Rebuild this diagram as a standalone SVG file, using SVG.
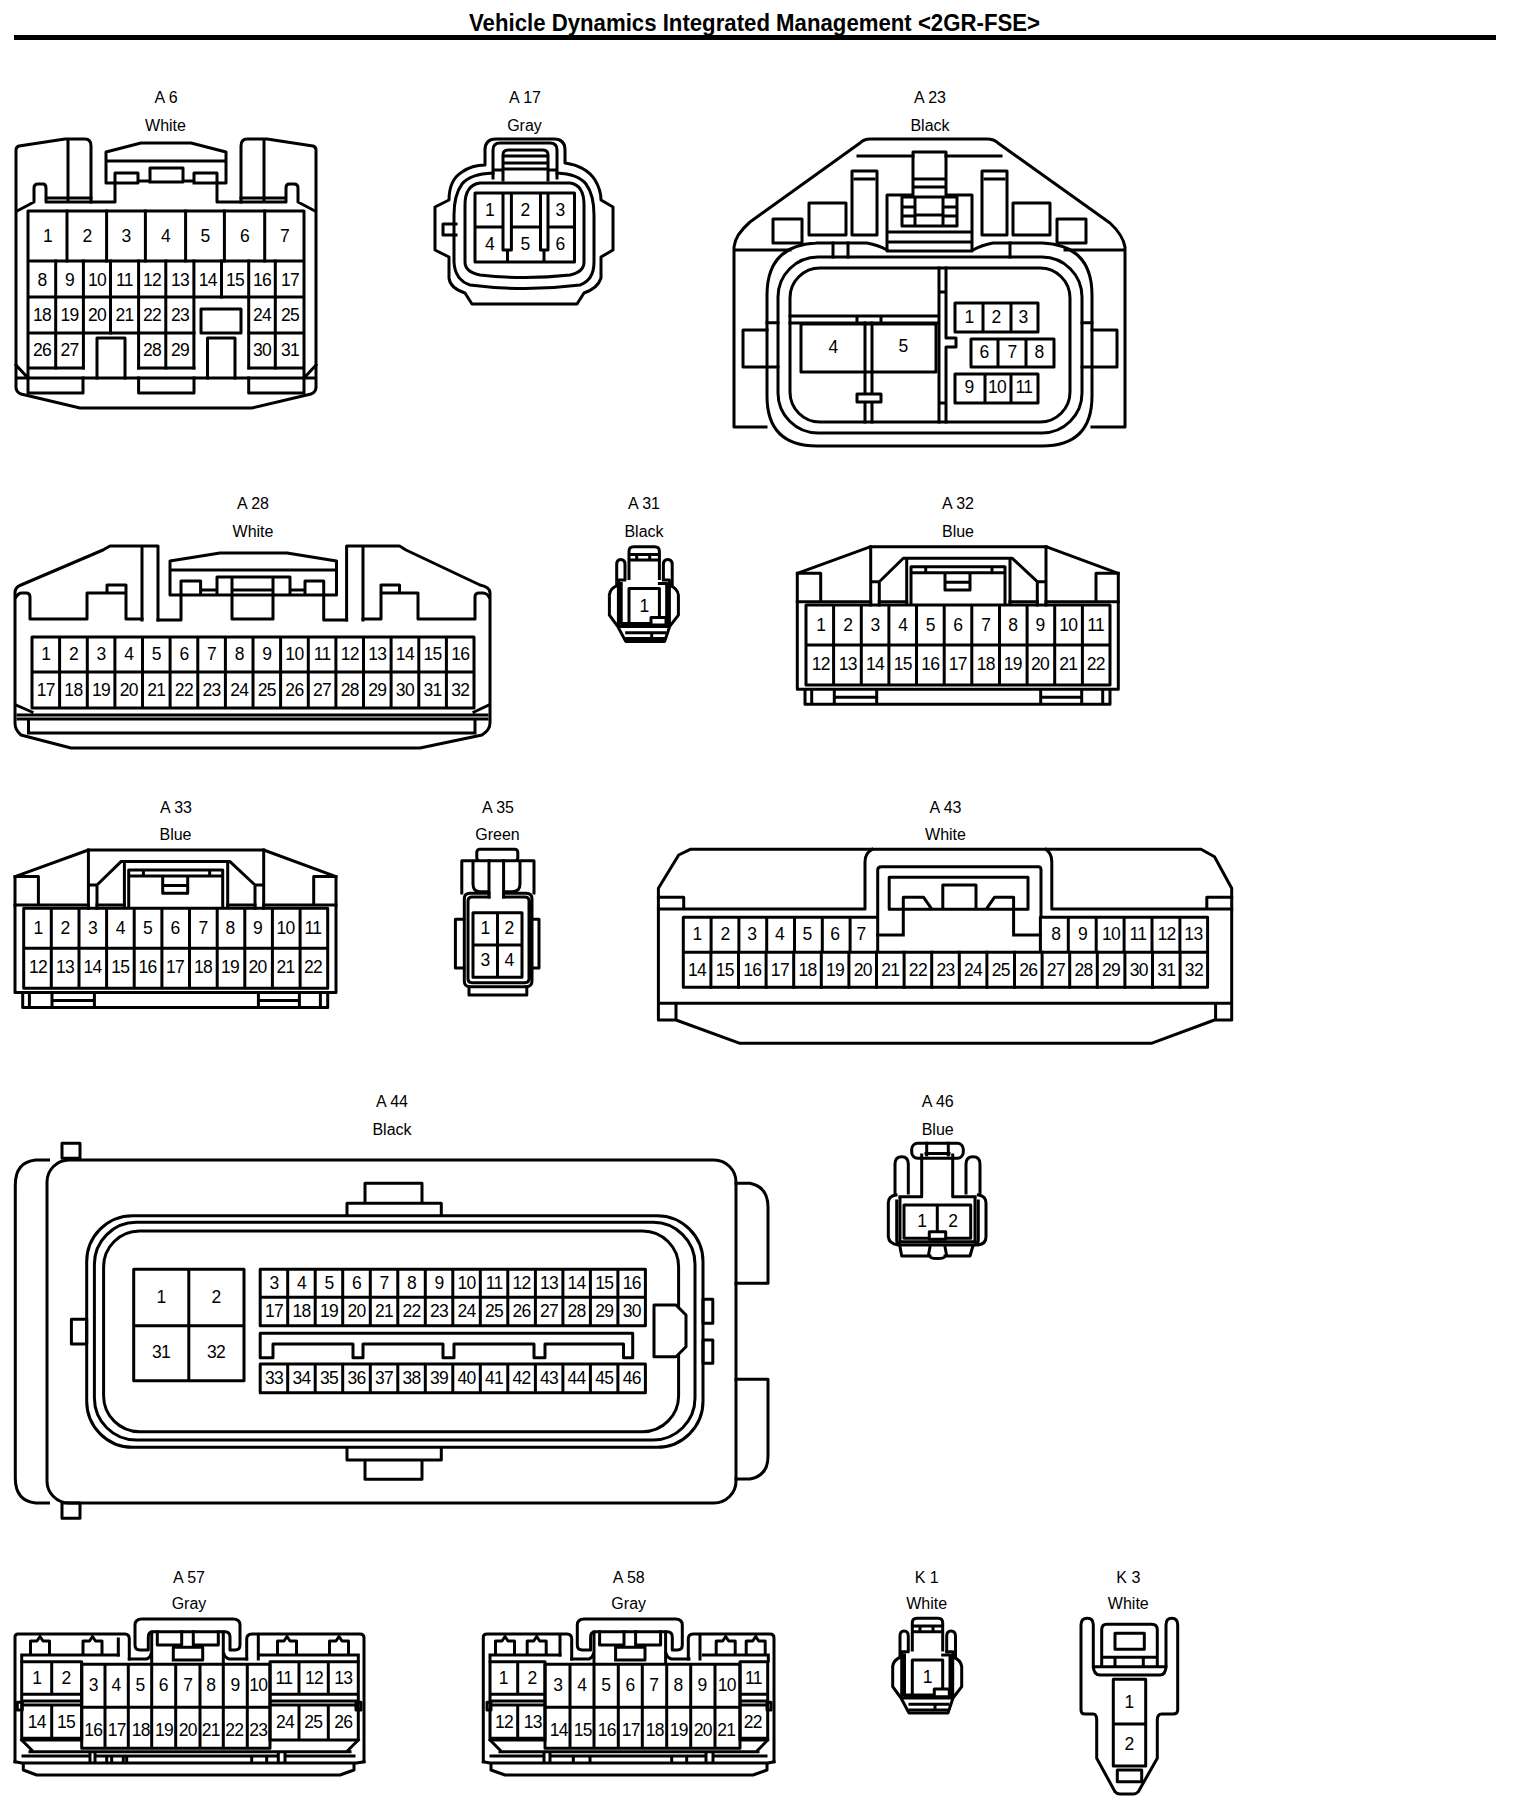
<svg xmlns="http://www.w3.org/2000/svg" xmlns:xlink="http://www.w3.org/1999/xlink" width="1520" height="1812" viewBox="0 0 1520 1812">
<style>
text{font-family:"Liberation Sans",Arial,sans-serif;fill:#000;stroke:none;text-anchor:middle}
.l{font-size:16px}
.n{font-size:17.5px;letter-spacing:-.7px}
.s{fill:none;stroke:#000;stroke-width:3;stroke-linejoin:round;stroke-linecap:square}
.w{fill:#fff;stroke:#000;stroke-width:3;stroke-linejoin:round}
</style>
<defs>
<g id="body22">
<path class="s" d="M797.3 689.3 V573.3 L870.7 546.7 H1046 L1118.3 573.3 V689.3 Z M805 689.3 V704.3 H1110 V689.3 M811.7 689.3 V704.3 M1102.7 689.3 V704.3 M834.3 689.3 V704.3 M876.7 689.3 V704.3 M834.3 697.3 H876.7 M1040.7 689.3 V704.3 M1081.7 689.3 V704.3 M1040.7 697.3 H1081.7"/>
<path class="s" d="M870.7 546.7 V605 M1046 546.7 V605 M870.7 581.7 H879.3 M1037.3 581.7 H1046 M879.3 605 V581.7 L903.3 558.3 H1012.3 L1037.3 581.7 V605 M906.7 560 V603 M1010 560 V603 M911 604 V566.7 H1005 V604 M911 572.7 H1005 M925.7 566.7 V572.7 M992 566.7 V572.7 M945 575 V590 H970 V575 M945 582.3 H970"/>
<path class="s" d="M797.3 573.3 H820.7 V600 M1118.3 573.3 H1096 V600 M797.3 601.7 H870.7 M1046 601.7 H1118.3 M879.3 601.7 H906.7 M1010 601.7 H1037.3"/>
<path class="s" d="M806 605 H1110 V685 H806 Z M806 645 H1110 M833.6 605 V685 M861.3 605 V685 M888.9 605 V685 M916.5 605 V685 M944.2 605 V685 M971.8 605 V685 M999.5 605 V685 M1027.1 605 V685 M1054.7 605 V685 M1082.4 605 V685"/>
</g>
<g id="body1">
<path class="s" d="M912.3 1650 V1623 Q912.3 1618.3 917 1618.3 H938 Q942.7 1618.3 942.7 1623 V1650 M912.3 1626 H942.7 M912.3 1631.7 H942.7 M920 1626 V1631.7 M933 1626 V1631.7"/>
<path class="s" d="M900 1656 V1636 Q900 1631 904 1631 Q908.3 1631 908.3 1636 V1650 M946.7 1650 V1636 Q946.7 1631 951 1631 Q955.5 1631 955.5 1636 V1656"/>
<path class="s" d="M892.7 1666.7 Q893 1660 901 1657 M892.7 1666.7 V1686.7 L901 1698 L909 1713 H948 L953 1698 L961.7 1686.7 V1666.7 Q961 1660 953 1657"/>
<path class="s" d="M908 1651.7 H901.7 V1698 H952.7 V1651.7 H946.7 M904.5 1655 V1695 H950 V1655 H942.7"/>
<path class="s" d="M912.3 1660 H942.7 V1696 H912.3 Z"/>
<rect class="w" x="934.3" y="1689" width="15" height="7.7"/>
<path class="s" d="M910 1704.3 H948 M910 1710 H948 M935 1704.3 V1710"/>
</g>
<g id="handle">
<path class="s" d="M135 1645 V1625 Q135 1619 142 1619 H233 Q240 1619 240 1625 V1645 Q240 1650 235 1650 H230 V1637 Q230 1631.7 225 1631.7 H153 Q148.3 1631.7 148.3 1637 V1650 H140 Q135 1650 135 1645 Z"/>
<path class="s" d="M151.7 1632 V1662 M223.3 1632 V1662 M157.3 1631.7 V1645 H181.7 V1631.7 M193.3 1631.7 V1645 H218.3 V1631.7 M173.3 1660 V1647.3 H202.7 V1660 H173.3"/>
<path class="s" d="M129.3 1659 H146.7 Q150 1658 151 1654 M224 1654 Q225 1658 229 1659 H246.7"/>
</g>
<path id="peg" class="s" d="M-9.5 13 V1 H-3 L0 -3.5 L3 1 H9.5 V13"/>
</defs>
<rect width="1520" height="1812" fill="#fff"/>

<g id="title">
<text x="754.5" y="30.7" font-size="23" font-weight="700" textLength="571" lengthAdjust="spacingAndGlyphs">Vehicle Dynamics Integrated Management &lt;2GR-FSE&gt;</text>
<rect x="14" y="35" width="1482" height="5" fill="#000"/>
</g>

<g id="A6">
<text class="l" x="166" y="103">A 6</text><text class="l" x="165.5" y="131">White</text>
<path class="s" d="M16 387 V150 Q16 147 19 146 L65 139 H85 Q91 139 91 146 V202 M316 387 V150 Q316 147 313 146 L267 139 H247 Q241 139 241 146 V202 M16 387 Q16 392 21 394 L80 408 H252 L311 394 Q316 392 316 387 M68 139 V200 M264 139 V200"/>
<path class="s" d="M17 211 L34 202 V188 Q34 184 38 184 H43 Q46 184 46 188 V202 H115 V183 M315 211 L298 202 V188 Q298 184 294 184 H289 Q286 184 286 188 V202 H217 V183 M46 198 H91 M241 198 H286"/>
<path class="s" d="M115 183 H106 V152 L141 143 H191 L226 152 V183 H217 M106 161 H226 M115 183 V173 H138 V183 H115 M150 182 V168 H183 V182 H150 M194 183 V173 H217 V183 H194 M138 181 H150 M183 181 H194"/>
<path class="s" d="M28 378 V211 H304 V378 M16 365 L28 378 M316 365 L304 378 M18 378 H314 M28 261 H304 M28 297 H304 M28 333 H194 M249 333 H304 M28 368 H83 M138.6 368 H194 M249 368 H304"/>
<path class="s" d="M67 211 V261 M106.6 211 V261 M145.4 211 V261 M185.6 211 V261 M224.4 211 V261 M264.7 211 V261 M55.7 261 V368 M83.4 261 V368 M110.5 261 V333 M138.6 261 V368 M165.8 261 V368 M193.9 261 V368 M221.5 261 V297 M248.7 261 V368 M275.3 261 V368"/>
<path class="s" d="M201 309 H241 V333 H201 Z M97 378 V338 H125 V378 M207.5 378 V338 H235 V378 M28 378 V393 H83 V378 M138.6 378 V393 H194 V378 M248.7 378 V393 H304 V378"/>
<text class="n" x="47.5" y="242">1</text><text class="n" x="87" y="242">2</text><text class="n" x="126" y="242">3</text><text class="n" x="165.5" y="242">4</text><text class="n" x="205" y="242">5</text><text class="n" x="244.5" y="242">6</text><text class="n" x="284.5" y="242">7</text>
<text class="n" x="42" y="285.5">8</text><text class="n" x="69.5" y="285.5">9</text><text class="n" x="97" y="285.5">10</text><text class="n" x="124.5" y="285.5">11</text><text class="n" x="152" y="285.5">12</text><text class="n" x="180" y="285.5">13</text><text class="n" x="207.7" y="285.5">14</text><text class="n" x="235" y="285.5">15</text><text class="n" x="262" y="285.5">16</text><text class="n" x="290" y="285.5">17</text>
<text class="n" x="42" y="320.5">18</text><text class="n" x="69.5" y="320.5">19</text><text class="n" x="97" y="320.5">20</text><text class="n" x="124.5" y="320.5">21</text><text class="n" x="152" y="320.5">22</text><text class="n" x="180" y="320.5">23</text><text class="n" x="262" y="320.5">24</text><text class="n" x="290" y="320.5">25</text>
<text class="n" x="42" y="356">26</text><text class="n" x="69.5" y="356">27</text><text class="n" x="152" y="356">28</text><text class="n" x="180" y="356">29</text><text class="n" x="262" y="356">30</text><text class="n" x="290" y="356">31</text>
</g>

<g id="A17">
<text class="l" x="525" y="103">A 17</text><text class="l" x="524.5" y="131">Gray</text>
<path class="s" d="M485 165 V150 Q485 139 496 139 H554 Q565 139 565 150 V163 Q586 166 595 180 Q601 190 601 200 L613 207 V250 L601 257 V278 Q598 288 584 293 L577 304 H472 L465 293 Q450 288 449 278 V257 L435 250 V207 L449 200 Q449 180 462 172 Q472 165 485 165 Z M456 224 H443 V235 H456"/>
<path class="s" d="M493 173 Q470 174 462 184 Q454 195 454 215 V262 Q455 280 470 285 Q525 292 580 285 Q594 280 594 262 V215 Q594 195 586 184 Q578 174 557 173"/>
<path class="s" d="M465 205 Q465 185 480 183 H570 Q584 185 584 205 V262 Q584 272 570 275 Q525 280 480 275 Q465 272 465 262 Z"/>
<path class="s" d="M475 193 H574.5 V262 H475 Z M475 227 H503 M511.4 227 H540.5 M548 227 H574.5 M503 193 V250 H511.4 V193 M540.5 193 V250 H548 V193 M507.5 250 V262 M544 250 V262"/>
<path class="s" d="M493 178 V150 Q493 143 500 143 H550 Q557 143 557 150 V178 M493 170 H503 M548 170 H557 M503 180 V155 Q503 150 508 150 H543 Q548 150 548 155 V180 M505 156 H546 M505 163 H546 M505 169 H546"/>
<text class="n" x="489.6" y="216">1</text><text class="n" x="525" y="216">2</text><text class="n" x="560" y="216">3</text><text class="n" x="489.6" y="250">4</text><text class="n" x="525" y="250">5</text><text class="n" x="560" y="250">6</text>
</g>

<g id="A23">
<text class="l" x="930" y="103">A 23</text><text class="l" x="930" y="131">Black</text>
<path class="s" d="M766 427 H734 V247 Q735 235 750 222 L860 143 Q864 139 870 139 H987 Q994 139 998 143 L1110 223 Q1123 235 1125 247 V427 H1092 M734 250 H790 M1065 250 H1125"/>
<path class="s" d="M817 243 H867 Q878 245 887 250 M973 250 Q982 245 993 243 H1042 Q1092 245 1092 295 V396 Q1092 446 1042 446 H817 Q767 446 767 396 V295 Q767 245 817 243"/>
<rect class="s" x="778" y="257" width="304" height="176" rx="40"/>
<rect class="s" x="790" y="268" width="280" height="154" rx="30"/>
<path class="s" d="M767 330 H743 V367 H767 M1092 330 H1117 V367 H1092 M767 322.7 H778 M767 367 H778 M1082 322.7 H1092 M1082 367 H1092 M833 243 V257 M848 243 V257 M1010 243 V257"/>
<rect class="s" x="773" y="219" width="29" height="24"/><rect class="s" x="809" y="203" width="37" height="32"/><rect class="s" x="852" y="171" width="25" height="64"/><rect class="s" x="982" y="171" width="25" height="64"/><rect class="s" x="1013" y="203" width="37" height="32"/><rect class="s" x="1057" y="219" width="29" height="24"/>
<path class="s" d="M855 179 H874 M985 179 H1004 M858 156 H913 M946 156 H1001"/>
<path class="s" d="M887 251 V195 H913 V152 H946 V195 H972 V251 Z M913 179 H946 M913 187 H946 M902 197 H957 V226 H902 Z M915 197 V226 M943 197 V226 M902 207 H915 M943 207 H957 M902 216 H915 M943 216 H957 M918 215 H942 M887 232 H972 M887 242 H972"/>
<path class="s" d="M939 268 V422 M946 268 V338 H956 V347 H946 V422 M939 292 H946 M939 403 H946 M790 316 H939 M790 323 H939 M857 316 V323 M881 316 V323"/>
<path class="s" d="M801 324 H936 V372 H801 Z M865 323 V422 M872 323 V422"/>
<rect class="w" x="857" y="394" width="24" height="8"/>
<path class="s" d="M955 303 H1038 V332 H955 Z M983 303 V332 M1011 303 V332 M971 339 H1054 V367 H971 Z M998 339 V367 M1026 339 V367 M955 374 H1038 V403 H955 Z M985 374 V403 M1011 374 V403"/>
<text class="n" x="833" y="353">4</text><text class="n" x="903" y="352">5</text>
<text class="n" x="969" y="323">1</text><text class="n" x="996" y="323">2</text><text class="n" x="1023" y="323">3</text>
<text class="n" x="984" y="358">6</text><text class="n" x="1012" y="358">7</text><text class="n" x="1039" y="358">8</text>
<text class="n" x="969" y="393">9</text><text class="n" x="997" y="393">10</text><text class="n" x="1024" y="393">11</text>
</g>

<g id="A28">
<text class="l" x="253" y="509.3">A 28</text><text class="l" x="253" y="536.7">White</text>
<path class="s" d="M158 620 V546 H110 L103 550 L21 585 Q15 587 15 593 V723 Q15 730 21 735 L71 748 H420 L482 735 Q490 730 490 723 V593 Q490 587 480 585 L406 550 L399.5 546 H346.6 V620 M142 546 V620 M363 546 V620"/>
<path class="s" d="M16 597 Q18 593 22 593 H26 Q30 593 30 597 V619 H87 V593 H126 V619 H142 M158 620 H181 V595 M489 597 Q487 593 483 593 H479 Q475 593 475 597 V619 H418 V593 H381 V619 H363 M346.6 620 H323.7 V595 M107 593 V585 H126 V593 M381 593 V585 H399.5 V593"/>
<path class="s" d="M170 595 V561 L220 553 H287 L336.5 561 V595 Z M170 570 H336.5 M181 595 V581 H200.6 V595 M305 595 V581 H323.7 V595 M217 595 V577 H290 V595 M200.6 590 H217 M290 590 H305 M232 577 V619 H273 V577 M232 590 H273"/>
<path class="s" d="M32 637 H474 V708 H32 Z M32 672 H474 M59.6 637 V708 M87.3 637 V708 M114.9 637 V708 M142.5 637 V708 M170.1 637 V708 M197.8 637 V708 M225.4 637 V708 M253 637 V708 M280.6 637 V708 M308.3 637 V708 M335.9 637 V708 M363.5 637 V708 M391.1 637 V708 M418.8 637 V708 M446.4 637 V708"/>
<path class="s" d="M16 705 L32 712 M489 705 L474 712 M18 715 H487 M18 719 H487 M28.5 719 V733 M475 719 V733 M28.5 733 H475"/>
<text class="n" x="45.8" y="660">1</text><text class="n" x="73.4" y="660">2</text><text class="n" x="101.1" y="660">3</text><text class="n" x="128.7" y="660">4</text><text class="n" x="156.3" y="660">5</text><text class="n" x="183.9" y="660">6</text><text class="n" x="211.6" y="660">7</text><text class="n" x="239.2" y="660">8</text><text class="n" x="266.8" y="660">9</text><text class="n" x="294.4" y="660">10</text><text class="n" x="322.1" y="660">11</text><text class="n" x="349.7" y="660">12</text><text class="n" x="377.3" y="660">13</text><text class="n" x="404.9" y="660">14</text><text class="n" x="432.6" y="660">15</text><text class="n" x="460.2" y="660">16</text>
<text class="n" x="45.8" y="696">17</text><text class="n" x="73.4" y="696">18</text><text class="n" x="101.1" y="696">19</text><text class="n" x="128.7" y="696">20</text><text class="n" x="156.3" y="696">21</text><text class="n" x="183.9" y="696">22</text><text class="n" x="211.6" y="696">23</text><text class="n" x="239.2" y="696">24</text><text class="n" x="266.8" y="696">25</text><text class="n" x="294.4" y="696">26</text><text class="n" x="322.1" y="696">27</text><text class="n" x="349.7" y="696">28</text><text class="n" x="377.3" y="696">29</text><text class="n" x="404.9" y="696">30</text><text class="n" x="432.6" y="696">31</text><text class="n" x="460.2" y="696">32</text>
</g>

<g id="A31">
<text class="l" x="644" y="509.3">A 31</text><text class="l" x="644" y="536.7">Black</text>
<use href="#body1" xlink:href="#body1" transform="translate(-283.3,-1071.6)"/>
<text class="n" x="644" y="611.7">1</text>
</g>

<g id="A32">
<text class="l" x="958" y="509.3">A 32</text><text class="l" x="958" y="536.7">Blue</text>
<use href="#body22" xlink:href="#body22"/>
<text class="n" x="820.7" y="631">1</text><text class="n" x="847.7" y="631">2</text><text class="n" x="875" y="631">3</text><text class="n" x="902.7" y="631">4</text><text class="n" x="930.3" y="631">5</text><text class="n" x="957.7" y="631">6</text><text class="n" x="985.7" y="631">7</text><text class="n" x="1012.7" y="631">8</text><text class="n" x="1040" y="631">9</text><text class="n" x="1068.3" y="631">10</text><text class="n" x="1095.7" y="631">11</text>
<text class="n" x="820.7" y="670">12</text><text class="n" x="847.7" y="670">13</text><text class="n" x="875" y="670">14</text><text class="n" x="902.7" y="670">15</text><text class="n" x="930.3" y="670">16</text><text class="n" x="957.7" y="670">17</text><text class="n" x="985.7" y="670">18</text><text class="n" x="1012.7" y="670">19</text><text class="n" x="1040" y="670">20</text><text class="n" x="1068.3" y="670">21</text><text class="n" x="1095.7" y="670">22</text>
</g>

<g id="A33">
<text class="l" x="176" y="812.7">A 33</text><text class="l" x="175.5" y="840">Blue</text>
<use href="#body22" xlink:href="#body22" transform="translate(-782.3,303.3)"/>
<text class="n" x="38" y="934">1</text><text class="n" x="65" y="934">2</text><text class="n" x="92.5" y="934">3</text><text class="n" x="120.2" y="934">4</text><text class="n" x="147.6" y="934">5</text><text class="n" x="175" y="934">6</text><text class="n" x="203" y="934">7</text><text class="n" x="230" y="934">8</text><text class="n" x="257.5" y="934">9</text><text class="n" x="285.5" y="934">10</text><text class="n" x="313" y="934">11</text>
<text class="n" x="38" y="973">12</text><text class="n" x="65" y="973">13</text><text class="n" x="92.5" y="973">14</text><text class="n" x="120.2" y="973">15</text><text class="n" x="147.6" y="973">16</text><text class="n" x="175" y="973">17</text><text class="n" x="203" y="973">18</text><text class="n" x="230" y="973">19</text><text class="n" x="257.5" y="973">20</text><text class="n" x="285.5" y="973">21</text><text class="n" x="313" y="973">22</text>
</g>

<g id="A35">
<text class="l" x="498" y="812.7">A 35</text><text class="l" x="497.5" y="840">Green</text>
<rect class="s" x="476.8" y="849.3" width="41" height="11.4" rx="3"/>
<path class="s" d="M476.8 860.7 H461.8 V893 M517.8 860.7 H534 V893 M473 860.7 V884 Q473 891.7 480 891.7 H489 M505 891.7 H512 Q520 891.7 520 884 V860.7 M489 860.7 V897 M503.6 860.7 V897"/>
<path class="s" d="M489 893.3 H470 Q464.3 893.3 464.3 899 V981 Q464.3 986.7 470 986.7 H526 Q532 986.7 532 981 V899 Q532 893.3 526 893.3 H503.6 M489 897 H472 Q468 897 468 901 V979 Q468 982.7 472 982.7 H525 Q529 982.7 529 979 V901 Q529 897 525 897 H503.6"/>
<path class="s" d="M464 919.3 H455.4 V968 H464 M532 919.3 H539 V968 H532 M469 986.7 V995 H526.8 V986.7"/>
<path class="s" d="M473 912.7 H522 V977.3 H473 Z M473 945 H522 M497.5 912.7 V977.3"/>
<text class="n" x="485" y="934.3">1</text><text class="n" x="509" y="934.3">2</text><text class="n" x="485" y="966">3</text><text class="n" x="509" y="966">4</text>
</g>

<g id="A43">
<text class="l" x="945.5" y="812.7">A 43</text><text class="l" x="945.5" y="840">White</text>
<path class="s" d="M658.4 1020 V888.3 L678.7 855 L690.2 849.3 H1201 L1214.5 856.7 L1231.7 888.3 V1020 H1214.5 L1151.3 1043.3 H740 L676 1020 Z M658.4 1003.3 H1231.7 M676 1003.3 V1020 M1215.6 1003.3 V1020"/>
<path class="s" d="M658.4 909 H865 V861.7 Q865 853 872 849.3 M1046 849.3 Q1051.8 853 1051.8 861.7 V909 H1231.7 M658.4 897.3 H683.7 V909 M1206.8 909 V897.3 H1231.7"/>
<path class="s" d="M877.7 915.7 V870 Q877.7 866.7 881.5 866.7 H1038.5 Q1041 866.7 1041 870 V915.7 M889.2 877.3 H1028 V909.3 H889.2 Z M942.8 909 V885 H976 V909 M903.3 935 V897.3 H923.6 L931.3 908.3 M1013.6 935 V897.3 H994.4 L986.8 908.3 M877.7 935 H903.3 M1013.6 935 H1040.4"/>
<path class="s" d="M683.3 917.3 H877.7 V952.3 H683.3 Z M1040.4 917.3 H1207.6 V952.3 H1040.4 Z M683.3 952.3 H1207.6 V987.3 H683.3 Z M711.1 917.3 V952.3 M738.9 917.3 V952.3 M766.7 917.3 V952.3 M794.5 917.3 V952.3 M822.3 917.3 V952.3 M850.1 917.3 V952.3 M1068.3 917.3 V952.3 M1096.2 917.3 V952.3 M1124.1 917.3 V952.3 M1152 917.3 V952.3 M1179.9 917.3 V952.3"/>
<path class="s" d="M710.9 952.3 V987.3 M738.5 952.3 V987.3 M766.1 952.3 V987.3 M793.7 952.3 V987.3 M821.3 952.3 V987.3 M848.9 952.3 V987.3 M876.5 952.3 V987.3 M904.1 952.3 V987.3 M931.7 952.3 V987.3 M959.3 952.3 V987.3 M986.9 952.3 V987.3 M1014.5 952.3 V987.3 M1042.1 952.3 V987.3 M1069.7 952.3 V987.3 M1097.3 952.3 V987.3 M1124.9 952.3 V987.3 M1152.5 952.3 V987.3 M1180.1 952.3 V987.3"/>
<text class="n" x="697" y="940">1</text><text class="n" x="725" y="940">2</text><text class="n" x="751.8" y="940">3</text><text class="n" x="779.4" y="940">4</text><text class="n" x="807" y="940">5</text><text class="n" x="834.8" y="940">6</text><text class="n" x="861" y="940">7</text>
<text class="n" x="1055.7" y="940">8</text><text class="n" x="1082.5" y="940">9</text><text class="n" x="1111" y="940">10</text><text class="n" x="1138" y="940">11</text><text class="n" x="1166.6" y="940">12</text><text class="n" x="1193.4" y="940">13</text>
<text class="n" x="697.1" y="976">14</text><text class="n" x="724.7" y="976">15</text><text class="n" x="752.3" y="976">16</text><text class="n" x="779.9" y="976">17</text><text class="n" x="807.5" y="976">18</text><text class="n" x="835.1" y="976">19</text><text class="n" x="862.7" y="976">20</text><text class="n" x="890.3" y="976">21</text><text class="n" x="917.9" y="976">22</text><text class="n" x="945.5" y="976">23</text><text class="n" x="973.1" y="976">24</text><text class="n" x="1000.7" y="976">25</text><text class="n" x="1028.3" y="976">26</text><text class="n" x="1055.9" y="976">27</text><text class="n" x="1083.5" y="976">28</text><text class="n" x="1111.1" y="976">29</text><text class="n" x="1138.7" y="976">30</text><text class="n" x="1166.3" y="976">31</text><text class="n" x="1193.9" y="976">32</text>
</g>

<g id="A44">
<text class="l" x="392" y="1106.7">A 44</text><text class="l" x="392" y="1135">Black</text>
<rect class="s" x="62" y="1143.3" width="18" height="15"/><rect class="s" x="62" y="1503" width="18" height="15.3"/>
<path class="s" d="M48.5 1160 H35.7 Q15.3 1162 15.3 1185 V1478 Q15.3 1501 35.7 1503 H48.5"/>
<rect class="s" x="47" y="1160" width="689" height="343" rx="22"/>
<path class="s" d="M736 1183.3 H750 Q768 1187 768 1207 V1283.3 H736 M736 1379.3 H768 V1456 Q768 1476 750 1479 H736"/>
<path class="s" d="M365 1203 V1183.3 H422 V1203 M347 1215 V1203.3 H441.3 V1215 M347 1448.3 V1460 H441.3 V1448.3 M365 1460 V1479.3 H422 V1460"/>
<rect class="s" x="71.4" y="1319.3" width="15.3" height="24.7"/>
<rect class="s" x="86.7" y="1215.7" width="616.3" height="231.6" rx="46"/>
<rect class="s" x="94.4" y="1222.3" width="600.6" height="217.7" rx="42"/>
<rect class="s" x="103.6" y="1231" width="575" height="200.7" rx="36"/>
<path class="w" d="M654 1305 H676 L686 1315 V1346.7 L676 1356.7 H654 Z"/>
<rect class="s" x="703" y="1299.3" width="9.8" height="24"/><rect class="s" x="703" y="1340" width="9.8" height="23.3"/>
<path class="s" d="M133.7 1269.3 H244 V1380.7 H133.7 Z M188.8 1269.3 V1380.7 M133.7 1325.7 H244"/>
<path class="s" d="M260.2 1269.3 H645.4 V1325.7 H260.2 Z M260.2 1297.3 H645.4 M287.7 1269.3 V1325.7 M315.2 1269.3 V1325.7 M342.7 1269.3 V1325.7 M370.3 1269.3 V1325.7 M397.8 1269.3 V1325.7 M425.3 1269.3 V1325.7 M452.8 1269.3 V1325.7 M480.3 1269.3 V1325.7 M507.8 1269.3 V1325.7 M535.4 1269.3 V1325.7 M562.9 1269.3 V1325.7 M590.4 1269.3 V1325.7 M617.9 1269.3 V1325.7"/>
<path class="s" d="M260.2 1333.3 H632.7 V1357.7 H623.5 V1344 H545 V1357.7 H534 V1344 H454 V1357.7 H443 V1344 H363 V1357.7 H353 V1344 H273 V1357.7 H260.2 Z"/>
<path class="s" d="M260.2 1364 H645.4 V1392.7 H260.2 Z M287.7 1364 V1392.7 M315.2 1364 V1392.7 M342.7 1364 V1392.7 M370.3 1364 V1392.7 M397.8 1364 V1392.7 M425.3 1364 V1392.7 M452.8 1364 V1392.7 M480.3 1364 V1392.7 M507.8 1364 V1392.7 M535.4 1364 V1392.7 M562.9 1364 V1392.7 M590.4 1364 V1392.7 M617.9 1364 V1392.7"/>
<text class="n" x="161" y="1303">1</text><text class="n" x="216" y="1303">2</text><text class="n" x="161" y="1358">31</text><text class="n" x="216" y="1358">32</text>
<text class="n" x="274" y="1289">3</text><text class="n" x="301.5" y="1289">4</text><text class="n" x="329" y="1289">5</text><text class="n" x="356.5" y="1289">6</text><text class="n" x="384" y="1289">7</text><text class="n" x="411.5" y="1289">8</text><text class="n" x="439" y="1289">9</text><text class="n" x="466.6" y="1289">10</text><text class="n" x="494.1" y="1289">11</text><text class="n" x="521.6" y="1289">12</text><text class="n" x="549.1" y="1289">13</text><text class="n" x="576.6" y="1289">14</text><text class="n" x="604.2" y="1289">15</text><text class="n" x="631.7" y="1289">16</text>
<text class="n" x="274" y="1317">17</text><text class="n" x="301.5" y="1317">18</text><text class="n" x="329" y="1317">19</text><text class="n" x="356.5" y="1317">20</text><text class="n" x="384" y="1317">21</text><text class="n" x="411.5" y="1317">22</text><text class="n" x="439" y="1317">23</text><text class="n" x="466.6" y="1317">24</text><text class="n" x="494.1" y="1317">25</text><text class="n" x="521.6" y="1317">26</text><text class="n" x="549.1" y="1317">27</text><text class="n" x="576.6" y="1317">28</text><text class="n" x="604.2" y="1317">29</text><text class="n" x="631.7" y="1317">30</text>
<text class="n" x="274" y="1383.5">33</text><text class="n" x="301.5" y="1383.5">34</text><text class="n" x="329" y="1383.5">35</text><text class="n" x="356.5" y="1383.5">36</text><text class="n" x="384" y="1383.5">37</text><text class="n" x="411.5" y="1383.5">38</text><text class="n" x="439" y="1383.5">39</text><text class="n" x="466.6" y="1383.5">40</text><text class="n" x="494.1" y="1383.5">41</text><text class="n" x="521.6" y="1383.5">42</text><text class="n" x="549.1" y="1383.5">43</text><text class="n" x="576.6" y="1383.5">44</text><text class="n" x="604.2" y="1383.5">45</text><text class="n" x="631.7" y="1383.5">46</text>
</g>

<g id="A46">
<text class="l" x="937.7" y="1106.7">A 46</text><text class="l" x="937.7" y="1135">Blue</text>
<rect class="s" x="911.7" y="1143.3" width="51.6" height="15" rx="6"/>
<path class="s" d="M926.7 1143.3 V1155 M948.3 1143.3 V1155 M926 1153.5 H949 M921.7 1155 V1196.7 H900 M952.7 1155 V1196.7 H975"/>
<path class="s" d="M895 1193 V1164 Q895 1156.7 901.7 1156.7 Q908.3 1156.7 908.3 1164 V1193 M966 1193 V1164 Q966 1156.7 973 1156.7 Q980 1156.7 980 1164 V1193"/>
<path class="s" d="M896 1195 Q888.3 1196 888.3 1203 V1236.7 Q889 1244 898 1245 H978 Q986 1244 986 1236.7 V1203 Q986 1196 978.3 1195 M896.7 1201 V1240 Q896.7 1245 901 1245 M978.3 1201 V1240 Q978.3 1245 974 1245 M900 1198.3 V1241.7 H975 V1198.3"/>
<path class="s" d="M904 1205 H970.7 V1238.3 H904 Z M937.3 1205 V1232"/>
<rect class="w" x="929.3" y="1231.7" width="16.4" height="7.6"/>
<path class="s" d="M900 1246.7 L901.7 1256 H928.3 L930 1246.7 M930 1256 Q930 1258.5 937 1258.5 Q945 1258.5 945 1256 M945 1246.7 L946.7 1256 H970 L972.7 1246.7"/>
<text class="n" x="921.7" y="1226.7">1</text><text class="n" x="952.7" y="1226.7">2</text>
</g>

<g id="A57">
<text class="l" x="189" y="1582.7">A 57</text><text class="l" x="189" y="1609.3">Gray</text>
<use href="#handle" xlink:href="#handle"/>
<path class="s" d="M15 1761.7 V1637 Q15 1634 18 1634 H125 Q129.3 1634 129.3 1639 V1659 M118.3 1639 V1655 M246.7 1659 V1639 Q246.7 1634 252 1634 H360 Q364 1634 364 1638 V1761.7 M258.3 1636 V1659"/>
<path class="s" d="M21.7 1655 H118.3 M259.3 1655 H358.3 M21.7 1655 V1661 M358.3 1655 V1661"/>
<use href="#peg" xlink:href="#peg" transform="translate(40,1640)"/><use href="#peg" xlink:href="#peg" transform="translate(92.5,1640)"/><use href="#peg" xlink:href="#peg" transform="translate(287,1640)"/><use href="#peg" xlink:href="#peg" transform="translate(339,1640)"/>
<path class="s" d="M21.7 1661.7 H81.7 V1740 H21.7 Z M21.7 1694.3 H81.7 M21.7 1701 H81.7 M21.7 1705 H81.7 M21.7 1738.3 H81.7 M51.7 1661.7 V1694.3 M51.7 1705 V1738.3"/>
<path class="s" d="M270 1661.7 H358.3 V1740 H270 Z M270 1694.3 H358.3 M270 1701 H358.3 M270 1705 H358.3 M299 1661.7 V1694.3 M328.3 1661.7 V1694.3 M299 1705 V1738.3 M328.3 1705 V1738.3"/>
<path class="s" d="M81.7 1664.3 H270 V1748.3 H81.7 Z M81.7 1707.3 H270 M105 1664.3 V1748.3 M128.3 1664.3 V1748.3 M151.7 1664.3 V1748.3 M175.7 1664.3 V1748.3 M200 1664.3 V1748.3 M223.3 1664.3 V1748.3 M247.3 1664.3 V1748.3"/>
<rect class="s" x="17.3" y="1702.3" width="5" height="7.7"/><rect class="s" x="356" y="1702.3" width="5" height="7.7"/>
<path class="s" d="M21.7 1740 L31.7 1750 M358.3 1740 L348.3 1750 M30 1751.7 H350 M15 1761.7 L21.7 1763 H356.7 L364 1761.7 M23.3 1763 V1770 L36.7 1775 H340 L354 1770 V1763 M23 1756 H90 M95 1756 H278 M288 1756 H354 M90 1751.7 V1763 M95 1751.7 V1763 M106.7 1756 V1763 M111.7 1756 V1763 M123.3 1756 V1763 M126.7 1756 V1763 M251.7 1756 V1763 M266.7 1756 V1763 M278.3 1751.7 V1763 M285 1751.7 V1763"/>
<text class="n" x="36.7" y="1683.5">1</text><text class="n" x="66" y="1683.5">2</text><text class="n" x="93.3" y="1691">3</text><text class="n" x="116" y="1691">4</text><text class="n" x="140" y="1691">5</text><text class="n" x="163.3" y="1691">6</text><text class="n" x="187.7" y="1691">7</text><text class="n" x="210.7" y="1691">8</text><text class="n" x="235" y="1691">9</text><text class="n" x="258.3" y="1691">10</text><text class="n" x="284" y="1683.5">11</text><text class="n" x="314" y="1683.5">12</text><text class="n" x="343.3" y="1683.5">13</text>
<text class="n" x="36.7" y="1728">14</text><text class="n" x="66" y="1728">15</text><text class="n" x="93.3" y="1735.5">16</text><text class="n" x="116.7" y="1735.5">17</text><text class="n" x="140.7" y="1735.5">18</text><text class="n" x="164" y="1735.5">19</text><text class="n" x="187.7" y="1735.5">20</text><text class="n" x="210.7" y="1735.5">21</text><text class="n" x="234.3" y="1735.5">22</text><text class="n" x="258.3" y="1735.5">23</text><text class="n" x="285" y="1728">24</text><text class="n" x="313.3" y="1728">25</text><text class="n" x="343.3" y="1728">26</text>
</g>

<g id="A58">
<text class="l" x="628.7" y="1582.7">A 58</text><text class="l" x="628.7" y="1609.3">Gray</text>
<use href="#handle" xlink:href="#handle" transform="translate(442.3,0)"/>
<path class="s" d="M483.3 1761.7 V1637 Q483.3 1634 487 1634 H567 Q571.7 1634 571.7 1639 V1659 M560 1636 V1655 M688.3 1659 V1639 Q688.3 1634 693 1634 H770 Q774 1634 774 1638 V1761.7 M700 1636 V1659"/>
<path class="s" d="M490 1655 H560 M703.3 1655 H768.3 M490 1655 V1661 M768.3 1655 V1661"/>
<use href="#peg" xlink:href="#peg" transform="translate(505,1640)"/><use href="#peg" xlink:href="#peg" transform="translate(536.7,1640)"/><use href="#peg" xlink:href="#peg" transform="translate(725.7,1640)"/><use href="#peg" xlink:href="#peg" transform="translate(755.7,1640)"/>
<path class="s" d="M490 1661.7 H545 V1740 H490 Z M490 1694.3 H545 M490 1701 H545 M490 1705 H545 M517.7 1661.7 V1694.3 M517.7 1705 V1738.3 M490 1738.3 H545"/>
<path class="s" d="M740 1661.7 H767.7 V1740 H740 Z M740 1694.3 H767.7 M740 1701 H767.7 M740 1705 H767.7 M740 1738.3 H767.7"/>
<path class="s" d="M545 1664.3 H740 V1748.3 H545 Z M545 1707.3 H740 M570 1664.3 V1748.3 M594 1664.3 V1748.3 M618.3 1664.3 V1748.3 M642.3 1664.3 V1748.3 M666.7 1664.3 V1748.3 M690.7 1664.3 V1748.3 M715 1664.3 V1748.3"/>
<rect class="s" x="487" y="1702.3" width="4" height="7.7"/><rect class="s" x="767" y="1702.3" width="4" height="7.7"/>
<path class="s" d="M490 1740 L500 1750 M767.7 1740 L758 1750 M500 1751.7 H758 M483.3 1761.7 L490 1763 H768 L774 1761.7 M491 1763 V1770 L505 1775 H753 L767 1770 V1763 M491 1756 H544 M550 1756 H706 M713 1756 H766 M544 1751.7 V1763 M550 1751.7 V1763 M573.3 1756 V1763 M590 1756 V1763 M671.7 1756 V1763 M686.7 1756 V1763 M706 1751.7 V1763 M713 1751.7 V1763"/>
<text class="n" x="503.3" y="1683.5">1</text><text class="n" x="532" y="1683.5">2</text><text class="n" x="557.7" y="1691">3</text><text class="n" x="581.7" y="1691">4</text><text class="n" x="605.7" y="1691">5</text><text class="n" x="630" y="1691">6</text><text class="n" x="653.7" y="1691">7</text><text class="n" x="678" y="1691">8</text><text class="n" x="702" y="1691">9</text><text class="n" x="726.7" y="1691">10</text><text class="n" x="753.3" y="1683.5">11</text>
<text class="n" x="504" y="1728">12</text><text class="n" x="532.7" y="1728">13</text><text class="n" x="558.7" y="1735.5">14</text><text class="n" x="582.7" y="1735.5">15</text><text class="n" x="606.7" y="1735.5">16</text><text class="n" x="630.7" y="1735.5">17</text><text class="n" x="654.7" y="1735.5">18</text><text class="n" x="678.7" y="1735.5">19</text><text class="n" x="702.7" y="1735.5">20</text><text class="n" x="726.3" y="1735.5">21</text><text class="n" x="752.7" y="1728">22</text>
</g>

<g id="K1">
<text class="l" x="926.7" y="1582.7">K 1</text><text class="l" x="926.7" y="1609.3">White</text>
<use href="#body1" xlink:href="#body1"/>
<text class="n" x="927.3" y="1683.3">1</text>
</g>

<g id="K3">
<text class="l" x="1128.3" y="1582.7">K 3</text><text class="l" x="1128.3" y="1609.3">White</text>
<path class="s" d="M1081 1710 V1625 Q1081 1618.3 1087.3 1618.3 Q1093.3 1618.3 1093.3 1625 V1665 Q1093.3 1675 1100 1675 H1160 Q1166 1675 1166 1665 V1625 Q1166 1618.3 1171.7 1618.3 Q1177.7 1618.3 1177.7 1625 V1710 Q1177.7 1714 1173 1714 H1161.7 Q1157.3 1714 1157.3 1720 V1758.3 L1138.3 1791.7 Q1136 1794 1133.3 1794 H1120 Q1117 1794 1115 1791.7 L1096.7 1758.3 V1720 Q1096.7 1714 1093.3 1714 H1085 Q1081 1714 1081 1710 Z"/>
<path class="s" d="M1101.7 1666.7 V1630 Q1101.7 1624.3 1106.7 1624.3 H1151.7 Q1157.3 1624.3 1157.3 1630 V1666.7 M1101.7 1657.3 H1157.3 M1093.3 1666.7 H1166 M1115 1657.3 V1666.7 M1143.3 1657.3 V1666.7"/>
<rect class="s" x="1115" y="1633.3" width="29.3" height="16"/>
<path class="s" d="M1113.3 1679.3 H1145.7 V1766 H1113.3 Z M1113.3 1724 H1145.7"/>
<rect class="s" x="1117.3" y="1770" width="24.4" height="11.7"/>
<text class="n" x="1129" y="1707.7">1</text><text class="n" x="1129" y="1750">2</text>
</g>
</svg>
